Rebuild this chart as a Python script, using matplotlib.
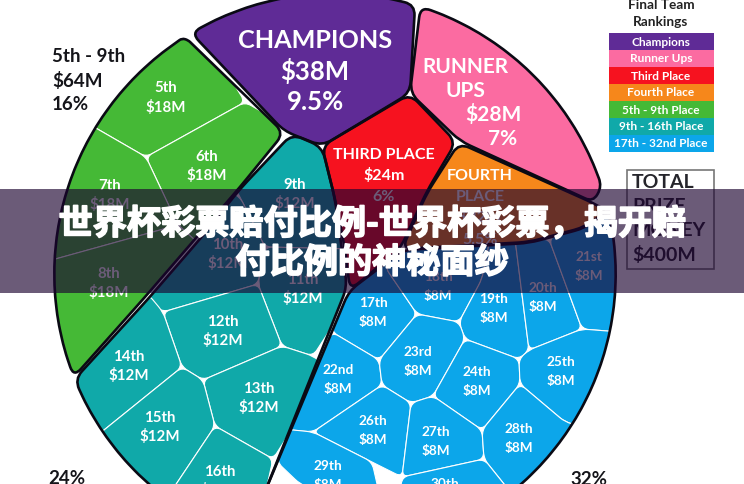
import numpy as np
import matplotlib
matplotlib.use("Agg")
import matplotlib.pyplot as plt
import matplotlib.patheffects as pe
from matplotlib.patches import PathPatch, Rectangle
from matplotlib.path import Path

# ---------------------------------------------------------------------------
# Data
# ---------------------------------------------------------------------------
legend_labels = ["Champions", "Runner Ups", "Third Place", "Fourth Place",
                 "5th - 9th Place", "9th - 16th Place", "17th - 32nd Place"]
legend_colors = ["#5f2b96", "#fb6ba1", "#f6121f", "#f6871b",
                 "#45b936", "#10a9a9", "#0ca6ea"]

green_ranks = ["5th", "6th", "7th", "8th"]
green_values = [18, 18, 18, 18]
teal_ranks = ["9th", "10th", "11th", "12th", "13th", "14th", "15th", "16th"]
teal_values = [12, 12, 12, 12, 12, 12, 12, 12]
blue_ranks = ["17th", "18th", "19th", "20th", "21st", "22nd", "23rd", "24th",
              "25th", "26th", "27th", "28th", "29th", "30th"]
blue_values = [8, 8, 8, 8, 8, 8, 8, 8, 8, 8, 8, 8, 8, 8]

title_text = "世界杯彩票赔付比例-世界杯彩票，揭开赔\n付比例的神秘面纱"

# ---------------------------------------------------------------------------
# Geometry helpers (pixel space of the picture, y down)
# ---------------------------------------------------------------------------
CX, CY, R = 335.0, 275.0, 281.0


def rim(p, q, extra=0.0, step=6.0):
    """Points on the big circle between the directions of p and q."""
    a = np.arctan2(p[1] - CY, p[0] - CX)
    b = np.arctan2(q[1] - CY, q[0] - CX)
    d = (b - a + np.pi) % (2 * np.pi) - np.pi
    n = max(2, int(abs(np.degrees(d)) / step) + 1)
    return [(CX + (R + extra) * np.cos(t), CY + (R + extra) * np.sin(t))
            for t in np.linspace(a, a + d, n)]


def rounded(verts, r):
    """Closed path through verts, corners cut with a quadratic curve."""
    verts = [np.array(v, dtype=float) for v in verts]
    n = len(verts)
    pts, codes = [], []
    for i in range(n):
        v, prev, nxt = verts[i], verts[i - 1], verts[(i + 1) % n]
        d1, d2 = prev - v, nxt - v
        l1, l2 = np.linalg.norm(d1), np.linalg.norm(d2)
        c = min(r, l1 / 2.1, l2 / 2.1)
        a, b = v + d1 / l1 * c, v + d2 / l2 * c
        pts.append(a)
        codes.append(Path.MOVETO if i == 0 else Path.LINETO)
        pts += [v, b]
        codes += [Path.CURVE3, Path.CURVE3]
    pts.append(pts[0])
    codes.append(Path.CLOSEPOLY)
    return Path(pts, codes)


# group outlines
group_shapes = {
    "Champions": rim((190, 32), (415, 6)) + [(410, 94), (322, 147), (284, 132)],
    "Runner Ups": rim((419, 12), (603, 187)) + [(593, 203), (460, 142), (410, 94)],
    "Third Place": [(322, 147), (410, 95), (456, 143), (427, 192), (400, 250),
                    (350, 291), (345, 250), (335, 200)],
    "Fourth Place": [(459, 144), (593, 204), (607, 212), (585, 228), (529, 243),
                     (402, 250), (427, 194)],
    "5th - 9th Place": rim((181, 38), (74, 378)) + [(145, 298), (240, 188), (284, 134), (188, 41)],
    "9th - 16th Place": [(292, 135), (322, 148), (335, 200), (347, 288), (240, 555)]
                        + rim((240, 555), (73, 381)) + [(148, 300), (200, 240), (240, 190)],
    "17th - 32nd Place": [(349, 292), (403, 251), (529, 244), (585, 229)]
                         + rim((609, 213), (240, 555)),
}

# cell outlines: vertices past the rim or past the group edge get clipped
green_cells = [
    rim((97, 130), (181, 40), 8) + [(200, 30), (245, 103), (146, 158)],
    [(146, 158), (245, 103), (300, 135), (205, 250), (178, 226)],
    rim((57, 263), (97, 130), 8) + [(146, 158), (178, 226)],
    rim((60, 385), (57, 263), 8) + [(178, 226), (205, 250), (130, 340)],
]
teal_cells = [
    [(230, 180), (292, 120), (340, 140), (355, 250), (265, 248), (240, 198)],
    [(130, 290), (163, 313), (258, 285), (265, 248), (240, 198), (225, 190)],
    [(265, 248), (355, 250), (350, 300), (313, 357), (282, 347), (258, 285)],
    [(163, 313), (258, 285), (282, 347), (203, 381), (182, 368)],
    [(203, 381), (215, 427), (273, 460), (330, 370), (313, 357), (282, 347)],
    rim((107, 430), (60, 360), 8) + [(148, 295), (163, 313), (182, 368)],
    rim((163, 505), (107, 430), 8) + [(182, 368), (203, 381), (215, 427)],
    rim((250, 560), (163, 505), 8) + [(215, 427), (273, 460)],
]
blue_cells = [
    [(332, 333), (330, 280), (405, 240), (385, 268), (417, 315), (379, 361)],
    [(385, 268), (405, 240), (490, 240), (482, 280), (459, 323), (417, 315)],
    [(490, 240), (515, 240), (529, 351), (519, 360), (465, 340), (459, 323), (482, 280)],
    [(515, 240), (549, 240), (582, 330), (529, 351)],
    [(549, 240), (600, 210)] + rim((615, 215), (609, 331), 8) + [(582, 330)],
    [(332, 333), (379, 361), (382, 386), (313, 433), (280, 430)],
    [(417, 315), (459, 323), (465, 340), (433, 397), (411, 404), (382, 386), (379, 361)],
    [(465, 340), (519, 360), (520, 385), (482, 431), (433, 397)],
    [(529, 351), (582, 330)] + rim((609, 331), (574, 423), 8) + [(565, 423), (520, 385), (519, 360)],
    [(313, 433), (382, 386), (411, 404), (402, 478), (372, 463)],
    [(411, 404), (433, 397), (482, 431), (484, 460), (402, 478)],
    [(520, 385), (565, 423)] + rim((574, 423), (512, 495), 8) + [(484, 460), (482, 431)],
    [(283, 430), (313, 433), (372, 463), (385, 520), (300, 485), (277, 463)],
    [(402, 478), (484, 460), (512, 495), (500, 540), (395, 540)],
]

green_pos = [(166, 88), (207, 157), (110, 186), (109, 274)]
teal_pos = [(295, 185), (228, 245), (303, 280), (223, 322),
            (259, 389), (129, 357), (160, 418), (220, 472)]
blue_pos = [(373, 303), (438, 277), (494, 299), (543, 288), (589, 257),
            (338, 370), (418, 352), (477, 372), (561, 362), (373, 421),
            (436, 432), (519, 429), (328, 466), (445, 484)]

# ---------------------------------------------------------------------------
# Figure
# ---------------------------------------------------------------------------
plt.rcParams['font.family'] = ['Lato', 'DejaVu Sans']

fig = plt.figure(figsize=(7.44, 4.85), dpi=100)
ax = fig.add_axes([0, 0, 1, 1])
ax.set_xlim(0, 744)
ax.set_ylim(485, 0)
ax.axis('off')

group_paths = {}
for i, name in enumerate(legend_labels):
    path = rounded(group_shapes[name], 11)
    group_paths[name] = path
    fc = 'white' if i >= 4 else legend_colors[i]
    ax.add_patch(PathPatch(path, fc=fc, ec='none', zorder=1))


def draw_cells(cells, color, clip):
    for verts in cells:
        p = PathPatch(rounded(verts, 7), fc=color, ec='white', lw=0.8, zorder=2)
        ax.add_patch(p)
        p.set_clip_path(clip, ax.transData)


draw_cells(green_cells, legend_colors[4], group_paths["5th - 9th Place"])
draw_cells(teal_cells, legend_colors[5], group_paths["9th - 16th Place"])
draw_cells(blue_cells, legend_colors[6], group_paths["17th - 32nd Place"])

for name in legend_labels:
    ax.add_patch(PathPatch(group_paths[name], fc='none', ec='#0a0a14', lw=1.9, zorder=3))


def cell_labels(ranks, values, pos, size):
    for rank, val, (x, y) in zip(ranks, values, pos):
        ax.text(x, y, rank, color='white', fontsize=size, fontweight='bold',
                ha='center', va='center', zorder=4)
        ax.text(x, y + 19, f"${val}M", color='white', fontsize=size, fontweight='bold',
                ha='center', va='center', zorder=4)


cell_labels(green_ranks, green_values, green_pos, 10.8)
cell_labels(teal_ranks, teal_values, teal_pos, 10.8)
cell_labels(blue_ranks, blue_values, blue_pos, 9.8)


def big_text(x, y, s, size=16.5, color='white'):
    ax.text(x, y, s, color=color, fontsize=size, fontweight='bold',
            ha='center', va='center', zorder=4)


big_text(315, 40, "CHAMPIONS", 18.2)
big_text(315, 71, "$38M", 18.5)
big_text(315, 102, "9.5%", 18.5)
big_text(465, 67, "RUNNER", 15)
big_text(465, 91, "UPS", 15)
big_text(493, 115, "$28M", 15)
big_text(503, 139, "7%", 15)
big_text(384, 155, "THIRD PLACE", 11.5)
big_text(384, 176, "$24m", 11.5)
big_text(384, 197, "6%", 11.5)
big_text(480, 176, "FOURTH", 11.5)
big_text(480, 197, "PLACE", 11.5)
big_text(480, 218, "$22M", 11.5)
big_text(480, 240, "5.5%", 11.5)

# corner notes
for y, s in zip([57, 81, 105], ["5th - 9th", "$64M", "16%"]):
    ax.text(52, y, s, color='#15151a', fontsize=13.5, fontweight='bold', ha='left', va='center')
ax.text(48, 479, "24%", color='#15151a', fontsize=13.5, fontweight='bold', ha='left', va='center')
ax.text(570, 480, "32%", color='#15151a', fontsize=13.5, fontweight='bold', ha='left', va='center')

# legend
ax.text(661, 5, "Final Team", color='#222', fontsize=9.8, fontweight='bold', ha='center', va='center')
ax.text(661, 22, "Rankings", color='#222', fontsize=9.8, fontweight='bold', ha='center', va='center')
row_h = 17.0
for i, (lab, col) in enumerate(zip(legend_labels, legend_colors)):
    top = 33.5 + i * row_h
    ax.add_patch(Rectangle((609, top), 105, row_h, fc=col, ec='none'))
    ax.text(661, top + row_h / 2, lab, color='white', fontsize=8.6, fontweight='bold',
            ha='center', va='center')

# prize box
ax.add_patch(Rectangle((627, 171), 87, 99, fc='white', ec='#777', lw=1.2))
for y, s in zip([183, 207, 231, 255], ["TOTAL", "PRIZE", "MONEY", "$400M"]):
    ax.text(632, y, s, color='#25252b', fontsize=14, fontweight='bold', ha='left', va='center')

# title banner on top of everything
ax.add_patch(Rectangle((0, 190), 744, 104, fc='#1c0330', alpha=0.65, ec='none', zorder=10))
ax.text(372, 244, title_text, color='white', fontsize=24.6, fontweight='bold',
        family=['Noto Sans CJK SC', 'DejaVu Sans'], ha='center', va='center',
        linespacing=1.13, zorder=11,
        path_effects=[pe.withStroke(linewidth=1.2, foreground='white')])

fig.savefig('out.png', dpi=100)
